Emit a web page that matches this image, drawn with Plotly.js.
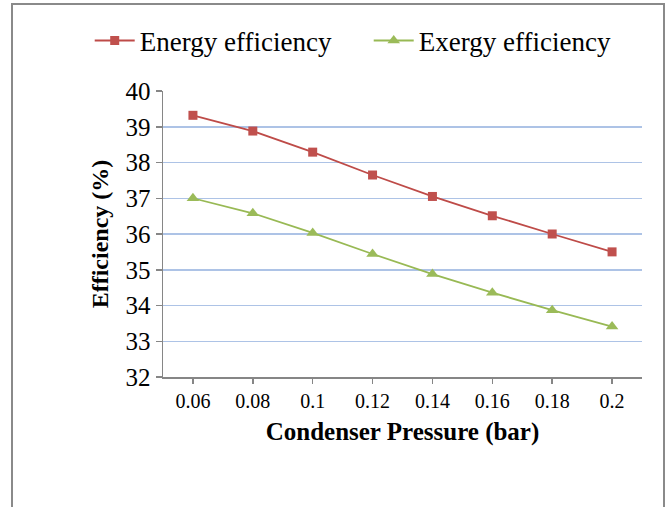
<!DOCTYPE html>
<html>
<head>
<meta charset="utf-8">
<script src="https://cdn.plot.ly/plotly-3.0.1.min.js"></script>
<style>html,body{margin:0;padding:0;background:#fff;}#chart{width:668px;height:507px;}</style>
</head>
<body>
<div id="chart"></div>
<script>
const pressures = ['0.06', '0.08', '0.1', '0.12', '0.14', '0.16', '0.18', '0.2'];
const energyEfficiency = [39.32, 38.88, 38.29, 37.65, 37.05, 36.51, 36.0, 35.5];
const exergyEfficiency = [37.0, 36.58, 36.03, 35.44, 34.88, 34.36, 33.87, 33.41];

const serif = 'Liberation Serif';

const traces = [
  {
    x: pressures, y: energyEfficiency, type: 'scatter', mode: 'lines+markers',
    name: 'Energy efficiency',
    line: {color: '#be4b48', width: 1.8},
    marker: {symbol: 'square', size: 9, color: '#c0504d', line: {color: '#c0504d', width: 0}}
  },
  {
    x: pressures, y: exergyEfficiency, type: 'scatter', mode: 'lines+markers',
    name: 'Exergy efficiency',
    line: {color: '#98b954', width: 1.8},
    marker: {symbol: 'triangle-up', size: 11, color: '#9bbb59', line: {width: 0}}
  }
];

const layout = {
  width: 668, height: 507,
  margin: {l: 163, r: 26, t: 91, b: 130},
  paper_bgcolor: '#ffffff', plot_bgcolor: '#ffffff',
  font: {family: serif, color: '#000000'},
  showlegend: true,
  legend: {
    orientation: 'h', x: -0.153, xanchor: 'left', y: 1.175, yanchor: 'middle',
    bgcolor: 'rgba(0,0,0,0)',
    font: {family: serif, size: 27, color: '#000'},
    entrywidth: 224, entrywidthmode: 'pixels', itemwidth: 40
  },
  xaxis: {
    type: 'category',
    range: [-0.5, 7.5],
    showline: true, linecolor: '#868686', linewidth: 1.5,
    ticks: 'outside', ticklen: 5, tickcolor: '#868686', tickwidth: 1.5,
    showgrid: false, zeroline: false,
    tickfont: {family: serif, size: 20, color: '#000'},
    title: {text: '<b>Condenser Pressure (bar)</b>', font: {family: serif, size: 25, color: '#000'}, standoff: 12}
  },
  yaxis: {
    range: [32, 40], dtick: 1, tick0: 32,
    showline: true, linecolor: '#868686', linewidth: 1.5,
    ticks: 'outside', ticklen: 6, tickcolor: '#868686', tickwidth: 1.5,
    showgrid: true, gridcolor: '#adc3e6', gridwidth: 1.5,
    zeroline: false,
    tickfont: {family: serif, size: 25, color: '#000'},
    title: {text: '<b>Efficiency (%)</b>', font: {family: serif, size: 24, color: '#000'}, standoff: 10}
  },
  shapes: [
    {type: 'rect', xref: 'paper', yref: 'paper',
     x0: (12 - 163) / 479, x1: (664 - 163) / 479,
     y0: (377 - 515) / 286, y1: (377 - 4) / 286,
     line: {color: '#8a8a8a', width: 2}, fillcolor: 'rgba(0,0,0,0)', layer: 'below'}
  ]
};

Plotly.newPlot('chart', traces, layout, {displayModeBar: false, staticPlot: true});
</script>
</body>
</html>
